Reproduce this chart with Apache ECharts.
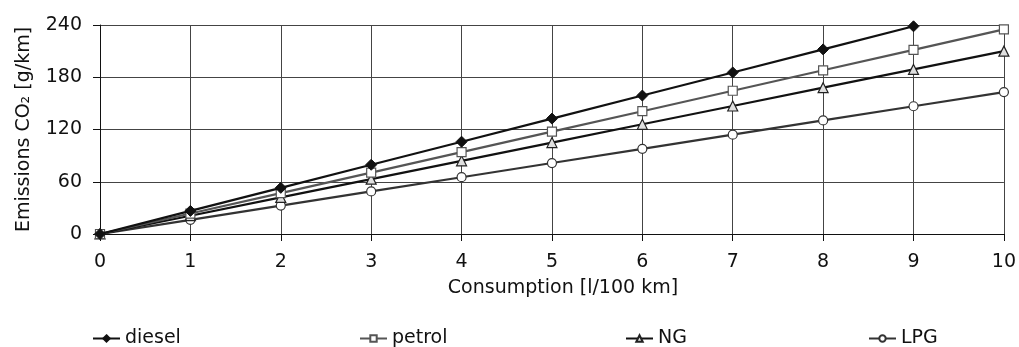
<!DOCTYPE html>
<html>
<head>
<meta charset="utf-8">
<script src="https://cdn.jsdelivr.net/npm/echarts@6/dist/echarts.min.js"></script>
<style>
html,body{margin:0;padding:0;background:#fff;}
#chart{width:1019px;height:347px;}
</style>
</head>
<body>
<div id="chart"></div>
<script>
const categories = [0, 1, 2, 3, 4, 5, 6, 7, 8, 9, 10];
const diesel = [0, 26.5, 53, 79.5, 106, 132.5, 159, 185.5, 212, 238.5];
const petrol = [0, 23.5, 47, 70.5, 94, 117.5, 141, 164.5, 188, 211.5, 235];
const ng     = [0, 21, 42, 63, 84, 105, 126, 147, 168, 189, 210];
const lpg    = [0, 16.3, 32.6, 48.9, 65.2, 81.5, 97.8, 114.1, 130.4, 146.7, 163];
const yTicks = [0, 60, 120, 180, 240];

const FONT = 'DejaVu Sans';
const toPairs = arr => arr.map((v, i) => [categories[i], v]);

const chart = echarts.init(document.getElementById('chart'), null, {renderer: 'canvas'});
const legendBase = {
  orient: 'horizontal', top: 329, padding: 0, itemWidth: 27, itemHeight: 8, itemGap: 5,
  textStyle: {fontFamily: FONT, fontSize: 19, color: '#111'}
};
chart.setOption({
  animation: false,
  backgroundColor: '#fff',
  textStyle: {fontFamily: FONT},
  grid: {left: 100, right: 12, top: 25, bottom: 113, containLabel: false},
  xAxis: {
    type: 'value', min: 0, max: 10, interval: 1,
    name: 'Consumption [l/100 km]', nameLocation: 'middle', nameGap: 45,
    nameTextStyle: {fontFamily: FONT, fontSize: 19, color: '#111', padding: [0, 0, 0, 22]},
    axisLine: {show: true, onZero: false, lineStyle: {color: '#111', width: 1}},
    axisTick: {show: true, length: 7, inside: false, lineStyle: {color: '#111'}},
    axisLabel: {fontFamily: FONT, fontSize: 19, color: '#111', margin: 19},
    splitLine: {show: true, lineStyle: {color: '#444', width: 1}}
  },
  yAxis: {
    type: 'value', min: 0, max: 240, interval: 60,
    name: 'Emissions CO\u2082 [g/km]', nameLocation: 'middle', nameGap: 66,
    nameTextStyle: {fontFamily: FONT, fontSize: 19, color: '#111'},
    axisLine: {show: true, lineStyle: {color: '#111', width: 1}},
    axisTick: {show: true, length: 7, inside: false, lineStyle: {color: '#111'}},
    axisLabel: {fontFamily: FONT, fontSize: 19, color: '#111', margin: 18,
      formatter: v => yTicks.includes(v) ? String(v) : ''},
    splitLine: {show: true, lineStyle: {color: '#444', width: 1}}
  },
  legend: [
    Object.assign({}, legendBase, {left: 92, data: ['diesel']}),
    Object.assign({}, legendBase, {left: 359, data: ['petrol']}),
    Object.assign({}, legendBase, {left: 625, data: ['NG']}),
    Object.assign({}, legendBase, {left: 868, data: ['LPG']})
  ],
  series: [
    {name: 'LPG', type: 'line', data: toPairs(lpg), symbol: 'circle', symbolSize: 9,
      lineStyle: {color: '#333', width: 2.2},
      itemStyle: {color: '#fff', borderColor: '#333', borderWidth: 1.2}, z: 2},
    {name: 'NG', type: 'line', data: toPairs(ng), symbol: 'triangle', symbolSize: 10,
      lineStyle: {color: '#111', width: 2.2},
      itemStyle: {color: '#e0e0e0', borderColor: '#222', borderWidth: 1.2}, z: 3},
    {name: 'petrol', type: 'line', data: toPairs(petrol), symbol: 'rect', symbolSize: 9,
      lineStyle: {color: '#555', width: 2.2},
      itemStyle: {color: '#fff', borderColor: '#555', borderWidth: 1.2}, z: 4},
    {name: 'diesel', type: 'line', data: toPairs(diesel), symbol: 'diamond', symbolSize: 11,
      lineStyle: {color: '#111', width: 2.2},
      itemStyle: {color: '#111', borderColor: '#111', borderWidth: 1}, z: 5}
  ]
});
</script>
</body>
</html>
